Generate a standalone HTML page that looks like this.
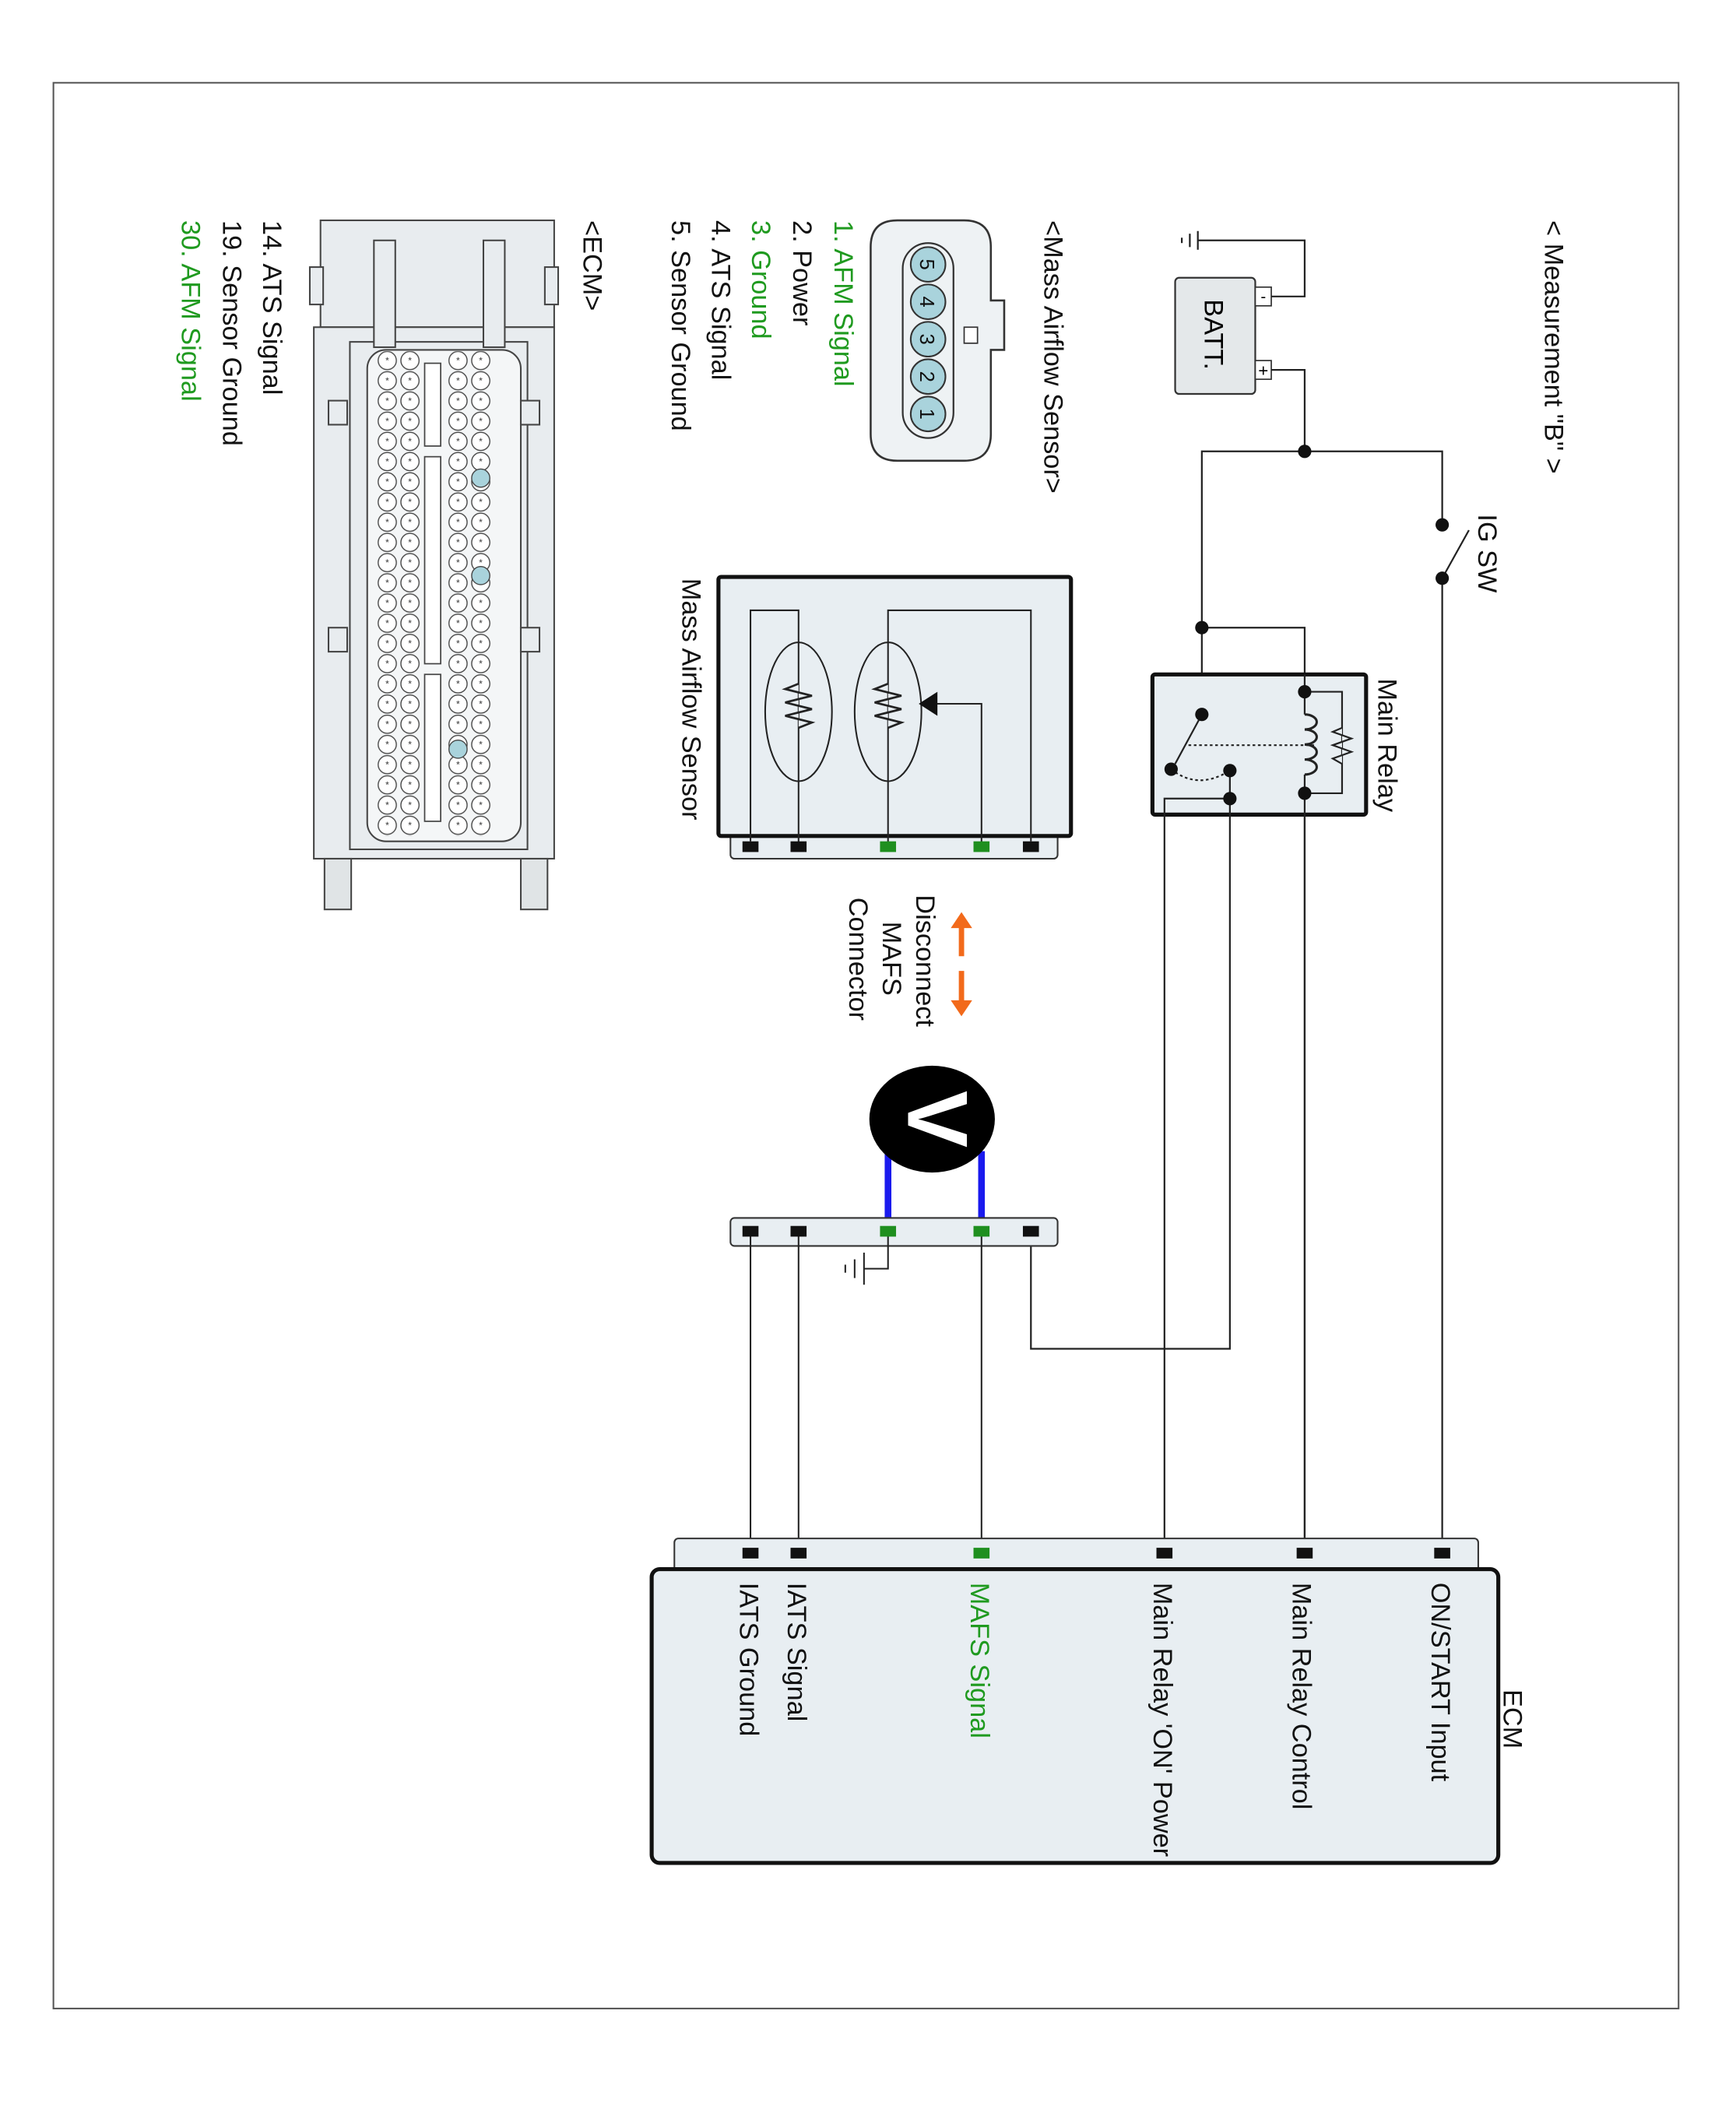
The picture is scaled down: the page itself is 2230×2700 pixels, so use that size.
<!DOCTYPE html>
<html><head><meta charset="utf-8"><style>
html,body{margin:0;padding:0;background:#fff}
svg{display:block}
text{font-family:"Liberation Sans",Arial,sans-serif}
</style></head><body>
<svg width="2230" height="2700" viewBox="0 0 1300 1574" xmlns="http://www.w3.org/2000/svg">
<defs>
<pattern id="p1" x="281.5" y="262.5" width="17" height="15.13" patternUnits="userSpaceOnUse">
<circle cx="8.5" cy="7.5" r="6.8" fill="#fff" stroke="#444" stroke-width="0.8"/><text x="8.5" y="10" font-size="7" text-anchor="middle" fill="#333">*</text></pattern>
<pattern id="p2" x="334.5" y="262.5" width="17" height="15.13" patternUnits="userSpaceOnUse">
<circle cx="8.5" cy="7.5" r="6.8" fill="#fff" stroke="#444" stroke-width="0.8"/><text x="8.5" y="10" font-size="7" text-anchor="middle" fill="#333">*</text></pattern>
</defs>
<rect x="40" y="62" width="1217" height="1442" fill="none" stroke="#555" stroke-width="1.2"/>

<!-- battery -->
<rect x="880" y="208" width="60" height="87" rx="3" fill="#e4e8ea" stroke="#333" stroke-width="1.3"/>
<text transform="translate(902,224) rotate(90)" font-size="20">BATT.</text>
<rect x="940" y="215" width="12" height="14" fill="#fff" stroke="#333"/>
<text x="946" y="226" font-size="12" text-anchor="middle">-</text>
<rect x="940" y="270" width="12" height="14" fill="#fff" stroke="#333"/>
<text x="946" y="282" font-size="13" text-anchor="middle">+</text>
<g stroke="#222" stroke-width="1.3" fill="none">
<polyline points="952,222 977,222 977,180 897,180"/>
<line x1="897" y1="173" x2="897" y2="187"/><line x1="891" y1="175" x2="891" y2="185"/><line x1="885" y1="178" x2="885" y2="182"/>
<polyline points="952,277 977,277 977,338"/>
<polyline points="900,535 900,338 1080,338 1080,393"/>
<line x1="1080" y1="433" x2="1080" y2="1163"/>
<line x1="1080" y1="433" x2="1100" y2="397"/>
<polyline points="900,470 977,470 977,1163"/>
</g>
<rect x="863" y="505" width="160" height="105" fill="#e8eef2" stroke="#111" stroke-width="3" rx="2"/>
<g stroke="#222" stroke-width="1.3" fill="none">
<line x1="977" y1="505" x2="977" y2="535"/>
<line x1="977" y1="580" x2="977" y2="1163"/>
<path d="M977,535 a9,5.6 0 0 1 0,11.25 a9,5.6 0 0 1 0,11.25 a9,5.6 0 0 1 0,11.25 a9,5.6 0 0 1 0,11.25" stroke-width="1.8"/>
<polyline points="977,518 1005,518 1005,594 977,594"/>
<polyline points="1005,545 998,548 1012,553 998,558 1012,563 998,568 1005,572" fill="#e8eef2"/>
<line x1="900" y1="535" x2="880" y2="572"/>
<line x1="890" y1="558" x2="985" y2="558" stroke-dasharray="2,2"/>
<path d="M877,576 Q897,592 921,577" stroke-dasharray="2,2"/>
<polyline points="921,577 921,1010 772,1010 772,922"/>
<polyline points="921,598 872,598 872,1163"/>
</g>
<g fill="#111">
<circle cx="977" cy="338" r="5"/><circle cx="900" cy="470" r="5"/>
<circle cx="977" cy="518" r="5"/><circle cx="977" cy="594" r="5"/><circle cx="900" cy="535" r="5"/>
<circle cx="877" cy="576" r="5"/><circle cx="921" cy="577" r="5"/><circle cx="921" cy="598" r="5"/>
<circle cx="1080" cy="393" r="5"/><circle cx="1080" cy="433" r="5"/>
</g>

<!-- MAFS sensor -->
<rect x="547" y="622" width="245" height="21" rx="3" fill="#e8eef2" stroke="#333" stroke-width="1.2"/>
<rect x="538" y="432" width="264" height="194" rx="2" fill="#e8eef2" stroke="#111" stroke-width="3"/>
<g stroke="#222" stroke-width="1.2" fill="none">
<polyline points="562,630 562,457 598,457 598,634"/>
<polyline points="665,634 665,457 772,457 772,630"/>
<ellipse cx="598" cy="533" rx="25" ry="52"/>
<ellipse cx="665" cy="533" rx="25" ry="52"/>
<polyline points="735,634 735,527 700,527"/>
</g>
<g stroke="#222" stroke-width="1.6" fill="#e8eef2">
<polyline points="598,512 588,516 608,521 588,526 608,531 588,536 608,541 598,545"/>
<polyline points="665,512 655,516 675,521 655,526 675,531 655,536 675,541 665,545"/>
</g>
<polygon points="688,527 702,518 702,536" fill="#111"/>
<g><rect x="556" y="630" width="12" height="8" fill="#111"/><rect x="592" y="630" width="12" height="8" fill="#111"/>
<rect x="659" y="630" width="12" height="8" fill="#1f8f1f"/><rect x="729" y="630" width="12" height="8" fill="#1f8f1f"/>
<rect x="766" y="630" width="12" height="8" fill="#111"/></g>

<!-- orange arrows -->
<g stroke="#f26a1b" stroke-width="4" fill="#f26a1b">
<line x1="720" y1="692" x2="720" y2="716"/><polygon points="712,695 728,695 720,683" stroke="none"/>
<line x1="720" y1="727" x2="720" y2="752"/><polygon points="712,749 728,749 720,761" stroke="none"/>
</g>

<!-- voltmeter -->
<line x1="665" y1="862" x2="665" y2="922" stroke="#1a1aee" stroke-width="5"/>
<line x1="735" y1="862" x2="735" y2="922" stroke="#1a1aee" stroke-width="5"/>
<ellipse cx="698" cy="838" rx="47" ry="40" fill="#000"/>
<text transform="translate(680,838) rotate(90)" font-size="64" font-weight="bold" fill="#fff" text-anchor="middle">V</text>
<rect x="547" y="912" width="245" height="21" rx="3" fill="#e8eef2" stroke="#333" stroke-width="1.2"/>
<g stroke="#222" stroke-width="1.2" fill="none">
<line x1="562" y1="922" x2="562" y2="1163"/><line x1="598" y1="922" x2="598" y2="1163"/>
<line x1="735" y1="922" x2="735" y2="1163"/>
<polyline points="665,922 665,950 647,950"/>
<line x1="647" y1="938" x2="647" y2="962"/><line x1="640" y1="943" x2="640" y2="957"/><line x1="633" y1="947" x2="633" y2="953"/>
</g>
<g><rect x="556" y="918" width="12" height="8" fill="#111"/><rect x="592" y="918" width="12" height="8" fill="#111"/>
<rect x="659" y="918" width="12" height="8" fill="#1f8f1f"/><rect x="729" y="918" width="12" height="8" fill="#1f8f1f"/>
<rect x="766" y="918" width="12" height="8" fill="#111"/></g>

<!-- ECM box -->
<rect x="505" y="1152" width="602" height="26" rx="3" fill="#e8eef2" stroke="#333" stroke-width="1.2"/>
<rect x="488" y="1175" width="634" height="220" rx="6" fill="#e8eef2" stroke="#111" stroke-width="3"/>
<g><rect x="556" y="1159" width="12" height="8" fill="#111"/><rect x="592" y="1159" width="12" height="8" fill="#111"/>
<rect x="729" y="1159" width="12" height="8" fill="#1f8f1f"/><rect x="866" y="1159" width="12" height="8" fill="#111"/>
<rect x="971" y="1159" width="12" height="8" fill="#111"/><rect x="1074" y="1159" width="12" height="8" fill="#111"/></g>

<!-- MAF connector -->
<path d="M672,165 L722,165 Q742,165 742,185 L742,225 L752,225 L752,262 L742,262 L742,325 Q742,345 722,345 L672,345 Q652,345 652,325 L652,185 Q652,165 672,165 Z" fill="#eef2f4" stroke="#333" stroke-width="1.5"/>
<rect x="722" y="245" width="10" height="12" fill="#fff" stroke="#333"/>
<rect x="676" y="182" width="38" height="146" rx="19" fill="#eef2f4" stroke="#333" stroke-width="1.3"/>
<g fill="#a9d3dc" stroke="#333" stroke-width="1.2">
<circle cx="695" cy="198" r="13"/><circle cx="695" cy="226" r="13"/><circle cx="695" cy="254" r="13"/><circle cx="695" cy="282" r="13"/><circle cx="695" cy="310" r="13"/></g>
<g font-size="15" fill="#111">
<text transform="translate(689,198) rotate(90)" text-anchor="middle">5</text>
<text transform="translate(689,226) rotate(90)" text-anchor="middle">4</text>
<text transform="translate(689,254) rotate(90)" text-anchor="middle">3</text>
<text transform="translate(689,282) rotate(90)" text-anchor="middle">2</text>
<text transform="translate(689,310) rotate(90)" text-anchor="middle">1</text>
</g>

<!-- ECM connector -->
<g stroke="#444" stroke-width="1.2" fill="#e8ecef">
<rect x="240" y="165" width="175" height="80" />
<rect x="235" y="245" width="180" height="398"/>
<rect x="262" y="256" width="133" height="380" fill="#e8ecef"/>
<rect x="275" y="262" width="115" height="368" rx="14" fill="#f4f6f7"/>
<rect x="280" y="180" width="16" height="80" fill="#e8ecef"/>
<rect x="362" y="180" width="16" height="80" fill="#e8ecef"/>
<rect x="243" y="643" width="20" height="38" fill="#e0e4e6"/>
<rect x="390" y="643" width="20" height="38" fill="#e0e4e6"/>
<rect x="232" y="200" width="10" height="28"/><rect x="408" y="200" width="10" height="28"/>
<rect x="246" y="300" width="14" height="18"/><rect x="390" y="300" width="14" height="18"/>
<rect x="246" y="470" width="14" height="18"/><rect x="390" y="470" width="14" height="18"/>
</g>
<rect x="282" y="263" width="34" height="363" fill="url(#p1)"/>
<rect x="335" y="263" width="34" height="363" fill="url(#p2)"/>
<rect x="318" y="272" width="12" height="62" fill="#fff" stroke="#444"/>
<rect x="318" y="342" width="12" height="155" fill="#fff" stroke="#444"/>
<rect x="318" y="505" width="12" height="110" fill="#fff" stroke="#444"/>
<circle cx="360" cy="358" r="6.8" fill="#a9d3dc" stroke="#444" stroke-width="0.8"/>
<circle cx="360" cy="431" r="6.8" fill="#a9d3dc" stroke="#444" stroke-width="0.8"/>
<circle cx="343" cy="561" r="6.8" fill="#a9d3dc" stroke="#444" stroke-width="0.8"/>

<g font-size="20" fill="#111">
<text transform="translate(1157,165) rotate(90)">&lt; Measurement "B" &gt;</text>
<text transform="translate(1107,385) rotate(90)">IG SW</text>
<text transform="translate(1032,508) rotate(90)">Main Relay</text>
<text transform="translate(782,165) rotate(90)">&lt;Mass Airflow Sensor&gt;</text>
<text transform="translate(625,165) rotate(90)" fill="#1f9a1f">1. AFM Signal</text>
<text transform="translate(594,165) rotate(90)">2. Power</text>
<text transform="translate(563,165) rotate(90)" fill="#1f9a1f">3. Ground</text>
<text transform="translate(533,165) rotate(90)">4. ATS Signal</text>
<text transform="translate(503,165) rotate(90)">5. Sensor Ground</text>
<text transform="translate(437,165) rotate(90)">&lt;ECM&gt;</text>
<text transform="translate(197,165) rotate(90)">14. ATS Signal</text>
<text transform="translate(167,165) rotate(90)">19. Sensor Ground</text>
<text transform="translate(136,165) rotate(90)" fill="#1f9a1f">30. AFM Signal</text>
<text transform="translate(511,433) rotate(90)">Mass Airflow Sensor</text>
<text transform="translate(686,670) rotate(90)">Disconnect</text>
<text transform="translate(661,690) rotate(90)">MAFS</text>
<text transform="translate(636,672) rotate(90)">Connector</text>
<text transform="translate(1126,1265) rotate(90)">ECM</text>
<text transform="translate(1072,1185) rotate(90)">ON/START Input</text>
<text transform="translate(968,1185) rotate(90)">Main Relay Control</text>
<text transform="translate(864,1185) rotate(90)">Main Relay 'ON' Power</text>
<text transform="translate(727,1185) rotate(90)" fill="#1f9a1f">MAFS Signal</text>
<text transform="translate(590,1185) rotate(90)">IATS Signal</text>
<text transform="translate(554,1185) rotate(90)">IATS Ground</text>
</g>
</svg>
</body></html>
